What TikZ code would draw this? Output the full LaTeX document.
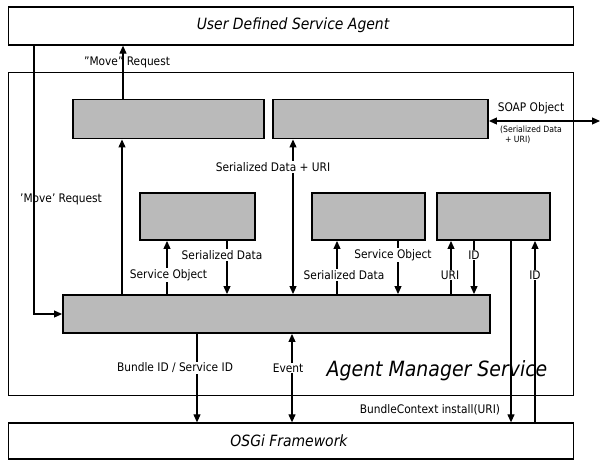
\documentclass[tikz,border=0pt]{standalone}
\usepackage{fontspec}
\setmainfont{DejaVu Sans Condensed}
\usetikzlibrary{arrows.meta}
\begin{document}
\begin{tikzpicture}[x=1pt,y=-1pt,
  frame/.style={draw, line width=1.3pt, minimum width=565pt, inner sep=0pt},
  module/.style={draw, line width=1.9pt, fill=black!27, inner sep=0pt},
  conn/.style={line width=1.1pt},
  arr/.style={conn, -{Triangle[length=8pt,width=7pt]}},
  darr/.style={conn, {Triangle[length=8pt,width=7pt]}-{Triangle[length=8pt,width=7pt]}},
  lbl/.style={font=\fontsize{11.8}{13}\selectfont, inner sep=1pt},
  onl/.style={lbl, fill=white},
  title/.style={font=\itshape\fontsize{15.5}{18}\selectfont}]
\useasboundingbox (0,0) rectangle (601,461);

% outer layers
\node[frame, minimum height=38pt] (agent) at (291,26) {};
\node[title] at (293,25) {User Defined Service Agent};
\node[frame, minimum height=323pt] (ams) at (291,234) {};
\node[frame, minimum height=36pt] (osgi) at (291,441) {};
\node[title] at (289,441) {OSGi Framework};
\node[font=\itshape\fontsize{21}{24}\selectfont] (amslabel) at (437,371) {Agent Manager Service};

% inner modules
\node[module, minimum width=191pt, minimum height=39pt] (b1) at (168.5,119) {};
\node[module, minimum width=215pt, minimum height=39pt] (b2) at (380.5,119) {};
\node[module, minimum width=115pt, minimum height=47pt] (b3) at (197.5,216.5) {};
\node[module, minimum width=113pt, minimum height=47pt] (b4) at (368.5,216.5) {};
\node[module, minimum width=113pt, minimum height=47pt] (b5) at (493.5,216.5) {};
\node[module, minimum width=427pt, minimum height=38pt] (bm) at (276.5,314) {};

% move requests
\draw[arr] (b1.north -| 123,0) -- (agent.south -| 123,0);
\node[lbl] at (127,62) {"Move" Request};
\draw[arr] (agent.south -| 34,0) |- (bm.west);
\node[lbl] at (61,199) {'Move' Request};

% SOAP exchange
\coordinate (soapend) at (600,121);
\draw[darr] (b2.east |- soapend) -- (soapend);
\node[lbl] at (531,108) {SOAP Object};
\node[font=\fontsize{8.6}{10}\selectfont, inner sep=0pt, align=left] at (531,135)
  {(Serialized Data\\\ \ + URI)};

% bundle manager <-> modules
\draw[arr] (bm.north -| 122,0) -- (b1.south -| 122,0);
\draw[darr] (b2.south -| 293,0) -- (bm.north -| 293,0);
\node[onl] at (273,167) {Serialized Data + URI};

\draw[arr] (bm.north -| 167,0) -- (b3.south -| 167,0);
\node[onl] at (168.5,275) {Service Object};
\draw[arr] (b3.south -| 227,0) -- (bm.north -| 227,0);
\node[onl] at (222,255) {Serialized Data};

\draw[arr] (bm.north -| 337,0) -- (b4.south -| 337,0);
\node[onl] at (344,275) {Serialized Data};
\draw[arr] (b4.south -| 398,0) -- (bm.north -| 398,0);
\node[onl] at (393,255) {Service Object};

\draw[arr] (bm.north -| 451,0) -- (b5.south -| 451,0);
\node[onl] at (450,275) {URI};
\draw[arr] (b5.south -| 474,0) -- (bm.north -| 474,0);
\node[onl] at (474,255) {ID};

% links to the framework
\draw[arr] (b5.south -| 511,0) -- (osgi.north -| 511,0);
\draw[arr] (osgi.north -| 535,0) -- (b5.south -| 535,0);
\node[onl] at (535,275) {ID};
\node[lbl] at (430,410) {BundleContext install(URI)};

\draw[arr] (bm.south -| 197,0) -- (osgi.north -| 197,0);
\node[onl] at (175,368) {Bundle ID / Service ID};
\draw[darr] (bm.south -| 292,0) -- (osgi.north -| 292,0);
\node[onl] at (288,368) {Event};
\end{tikzpicture}
\end{document}
